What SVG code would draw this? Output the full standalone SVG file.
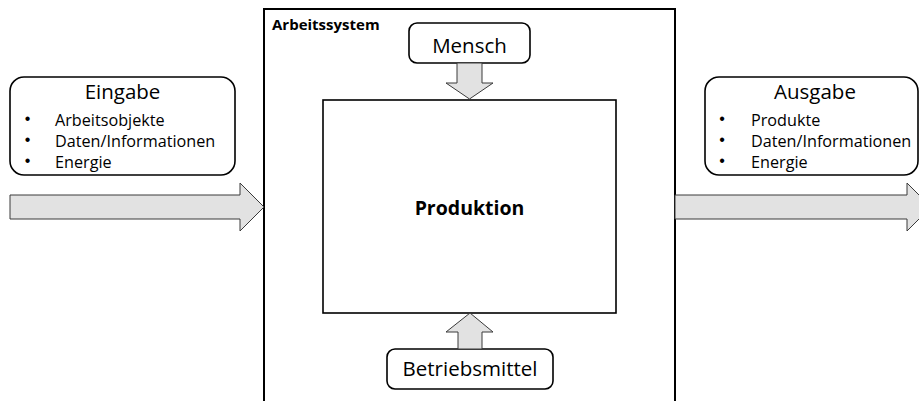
<svg xmlns="http://www.w3.org/2000/svg" width="919" height="401" viewBox="0 0 919 401">
  <style>
    .box { fill: #ffffff; stroke: #000000; stroke-width: 1.6; }
    .frame { fill: none; stroke: #000000; stroke-width: 2; }
    .arrow { fill: #e2e2e2; stroke: #3a3a3a; stroke-width: 1; }
    text { font-family: "Open Sans", "Liberation Sans", sans-serif; fill: #000000; }
    .head { font-size: 20.5px; text-anchor: middle; }
    .item { font-size: 16.2px; }
    .dot { font-family: "Liberation Sans", sans-serif; font-size: 16px; text-anchor: middle; }
    .bold { font-weight: bold; }
  </style>

  <!-- system boundary -->
  <g id="arbeitssystem">
    <rect class="frame" x="264" y="9" width="411" height="420"/>
    <text class="bold" x="272" y="30" font-size="15px">Arbeitssystem</text>
  </g>

  <g id="produktion">
    <rect class="box" x="323" y="100" width="293" height="213"/>
    <text class="bold" x="469.5" y="215" font-size="19.5px" text-anchor="middle">Produktion</text>
  </g>

  <g id="mensch">
    <rect class="box" x="409" y="23" width="121" height="40" rx="8"/>
    <text class="head" x="469.5" y="53">Mensch</text>
  </g>

  <g id="betriebsmittel">
    <rect class="box" x="387" y="349" width="166" height="40" rx="8"/>
    <text class="head" x="470" y="376">Betriebsmittel</text>
  </g>

  <g id="eingabe">
    <rect class="box" x="10" y="77" width="225" height="98" rx="14"/>
    <text class="head" x="122.5" y="99">Eingabe</text>
    <text class="dot" x="27.5" y="124">•</text>
    <text class="item" x="55" y="126">Arbeitsobjekte</text>
    <text class="dot" x="27.5" y="145">•</text>
    <text class="item" x="55" y="147">Daten/Informationen</text>
    <text class="dot" x="27.5" y="166">•</text>
    <text class="item" x="55" y="168">Energie</text>
  </g>

  <g id="ausgabe">
    <rect class="box" x="705" y="77" width="213" height="98" rx="14"/>
    <text class="head" x="815" y="99">Ausgabe</text>
    <text class="dot" x="722" y="124">•</text>
    <text class="item" x="751" y="126">Produkte</text>
    <text class="dot" x="722" y="145">•</text>
    <text class="item" x="751" y="147">Daten/Informationen</text>
    <text class="dot" x="722" y="166">•</text>
    <text class="item" x="751" y="168">Energie</text>
  </g>

  <!-- block arrows -->
  <g id="connectors">
    <path class="arrow" d="M10,195 H240 V183 L264,207 L240,231 V219 H10 Z"/>
    <path class="arrow" d="M675,195 H907 V183 L931,207 L907,231 V219 H675 Z"/>
    <path class="arrow" d="M457,63 H482 V83 H493 L469.5,99 L446,83 H457 Z"/>
    <path class="arrow" d="M458,349 V332 H446 L470,313 L493,332 H482 V349 Z"/>
  </g>
</svg>
